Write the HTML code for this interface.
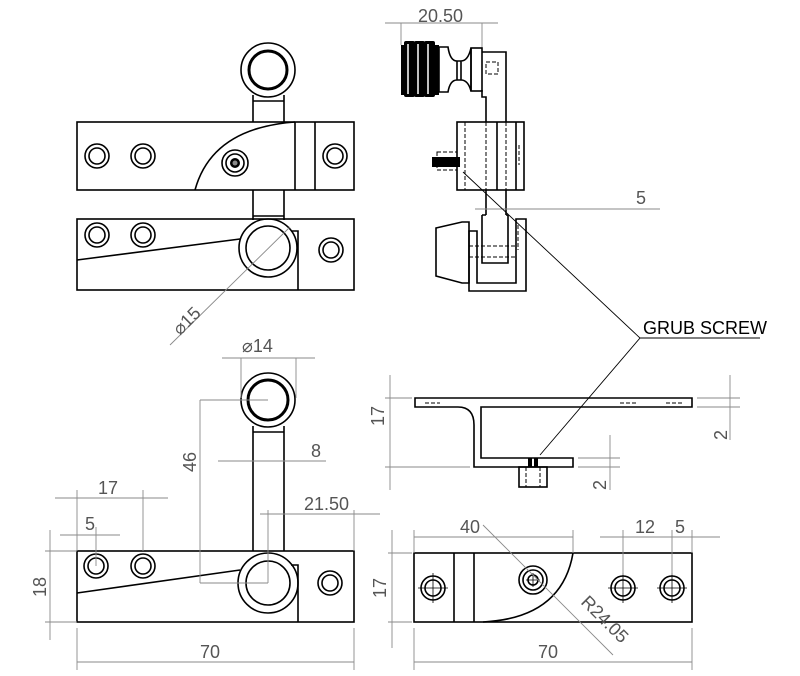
<!DOCTYPE html>
<html><head><meta charset="utf-8"><style>
html,body{margin:0;padding:0;background:#fff;}
svg{display:block;}
.k{fill:none;stroke:#000;stroke-width:1.6;}
.kt{fill:none;stroke:#000;stroke-width:3;}
.d{fill:none;stroke:#8a8a8a;stroke-width:0.9;}
.h{fill:none;stroke:#000;stroke-width:1;stroke-dasharray:4 2;}
.t{font-family:"Liberation Sans",sans-serif;font-size:18px;fill:#555;}
</style></head><body>
<svg width="800" height="676" viewBox="0 0 800 676" xmlns="http://www.w3.org/2000/svg">
<!-- ===== TOP LEFT VIEW ===== -->
<circle class="k" cx="268" cy="70" r="27"/><circle class="kt" cx="268" cy="70" r="19"/>
<path class="k" d="M253,95 V122 M284,95 V122 M253,101 H284"/>
<rect class="k" x="77" y="122" width="277" height="68"/>
<path class="k" d="M295,122 V190 M315,122 V190 M195,190 Q212,128 295,122"/>
<circle class="k" cx="97" cy="156" r="12"/><circle class="k" cx="97" cy="156" r="8"/>
<circle class="k" cx="143" cy="156" r="12"/><circle class="k" cx="143" cy="156" r="8"/>
<circle class="k" cx="335" cy="156" r="12"/><circle class="k" cx="335" cy="156" r="8"/>
<circle class="k" cx="235" cy="163" r="13"/><circle class="k" cx="235" cy="163" r="9"/><circle cx="235" cy="163" r="5" fill="#000"/><circle cx="235" cy="163" r="2.5" fill="#888"/>
<path class="k" d="M253,190 V220 M284,190 V220 M253,216 H284"/>
<rect class="k" x="77" y="219" width="277" height="71"/>
<circle class="k" cx="97" cy="235" r="12"/><circle class="k" cx="97" cy="235" r="8"/>
<circle class="k" cx="143" cy="235" r="12"/><circle class="k" cx="143" cy="235" r="8"/>
<circle class="k" cx="331" cy="250" r="12"/><circle class="k" cx="331" cy="250" r="8"/>
<circle fill="#fff" class="k" cx="268" cy="248" r="29"/><circle class="k" cx="268" cy="248" r="22"/>
<path class="k" d="M77,260 L240,239 M291,231 H298 V290"/>
<path class="d" d="M170,345 L290,227"/>
<text class="t" transform="translate(180,336) rotate(-45)">⌀15</text>
<!-- ===== TOP RIGHT VIEW ===== -->
<path class="d" d="M385,23 H498 M401,23 V45 M482,23 V50"/>
<text class="t" x="418" y="22">20.50</text>
<rect x="401" y="45" width="4" height="50" fill="#000"/>
<rect x="404" y="41" width="11" height="56" rx="2" fill="#000"/>
<rect x="414" y="41" width="11" height="56" rx="2" fill="#000"/>
<rect x="424" y="41" width="11" height="56" rx="2" fill="#000"/>
<path d="M408,44 V94 M418,44 V94 M428,44 V94" stroke="#fff" stroke-width="1.5"/>
<rect x="435" y="45" width="4" height="50" fill="#000"/>
<path class="k" d="M439,47 H448 Q450,61 457,61 H461 Q468,61 471,48 V91 Q468,80 461,80 H457 Q450,80 448,92 H439 Z M457,61 V80 M461,61 V80"/>
<rect class="k" x="471" y="48" width="11" height="43"/>
<path class="k" d="M482,52 H506 V122 M482,90 V97 H486 V122"/>
<rect class="h" x="486" y="62" width="12" height="12"/>
<rect class="k" x="457" y="122" width="67" height="68"/>
<path class="k" d="M497,122 V190 M516,122 V190"/>
<path class="h" d="M465,122 V190 M486,122 V190 M506,122 V190 M519,145 V165"/>
<rect class="h" x="437" y="152" width="20" height="18"/>
<rect x="432" y="157" width="28" height="10" fill="#000"/>
<path class="k" d="M486,190 V215 M506,190 V215"/>
<path class="k" d="M482,215 V263 H508 V215 M482,215 H486 M506,215 H508 M469,231 H477 V283 H516 V219 H526 V291 H469 Z"/>
<path class="k" d="M436,228 L462,222 H469 V283 H462 L436,276 Z"/>
<path class="h" d="M469,246 H516 M469,257 H516 M518,225 V250"/>
<path class="d" d="M475,209 H660"/>
<text class="t" x="636" y="204">5</text>
<path d="M463,172 L640,338 L540,455" fill="none" stroke="#000" stroke-width="0.9"/>
<path d="M640,338 H760" fill="none" stroke="#000" stroke-width="1"/>
<text x="643" y="334" font-family="Liberation Sans,sans-serif" font-size="18" fill="#000">GRUB SCREW</text>
<!-- ===== MIDDLE RIGHT SECTION ===== -->
<path class="k" d="M415,398 H692 V407 H481 V458 H573 V467 H474 V425 Q474,407 458,407 H415 Z"/>
<rect class="k" x="519" y="467" width="28" height="20"/>
<path class="h" d="M526,467 V487 M540,467 V487 M425,403 H440 M620,403 H636 M666,403 H682"/>
<rect x="528" y="458" width="4" height="9" fill="#000"/><rect x="534" y="458" width="4" height="9" fill="#000"/>
<path class="d" d="M390,375 V490 M385,398 H412 M385,467 H470 M730,375 V440 M697,398 H740 M697,407 H740 M610,435 V490 M578,458 H620 M578,467 H620"/>
<text class="t" transform="translate(384,426) rotate(-90)">17</text>
<text class="t" transform="translate(727,440) rotate(-90)">2</text>
<text class="t" transform="translate(606,490) rotate(-90)">2</text>
<!-- ===== BOTTOM LEFT VIEW ===== -->
<circle class="k" cx="268" cy="400" r="27"/><circle class="kt" cx="268" cy="400" r="20"/>
<path class="k" d="M253,426 V551 M284,426 V551 M253,432 H284"/>
<rect class="k" x="77" y="551" width="277" height="71"/>
<circle class="k" cx="96" cy="566" r="12"/><circle class="k" cx="96" cy="566" r="8"/>
<circle class="k" cx="143" cy="566" r="12"/><circle class="k" cx="143" cy="566" r="8"/>
<circle class="k" cx="330" cy="583" r="12"/><circle class="k" cx="330" cy="583" r="8"/>
<circle fill="#fff" class="k" cx="268" cy="583" r="30"/><circle class="k" cx="268" cy="583" r="22"/>
<path class="k" d="M77,593 L240,570 M291,565 H298 V622"/>
<path class="d" d="M222,358 H315 M241,358 V398 M296,358 V398 M200,400 H268 M200,400 V583 M200,583 H268 M218,461 H326 M260,514 H380 M268,510 V583 M354,510 V551 M55,498 H168 M77,490 V551 M143,490 V551 M60,535 H120 M96,527 V566 M50,530 V640 M45,551 H77 M45,622 H77 M77,628 V670 M354,628 V670 M77,662 H354"/>
<text class="t" x="242" y="352">⌀14</text>
<text class="t" transform="translate(196,472) rotate(-90)">46</text>
<text class="t" x="311" y="457">8</text>
<text class="t" x="304" y="510">21.50</text>
<text class="t" x="98" y="494">17</text>
<text class="t" x="85" y="530">5</text>
<text class="t" transform="translate(46,597) rotate(-90)">18</text>
<text class="t" x="200" y="658">70</text>
<!-- ===== BOTTOM RIGHT VIEW ===== -->
<rect class="k" x="414" y="553" width="278" height="69"/>
<path class="k" d="M454,553 V622 M474,553 V622 M483,622 Q562,618 573,553"/>
<circle class="k" cx="433" cy="588" r="12"/><circle class="k" cx="433" cy="588" r="8"/>
<circle class="k" cx="533" cy="580" r="14"/><circle class="k" cx="533" cy="580" r="10"/><circle class="k" cx="533" cy="580" r="5"/>
<circle class="k" cx="623" cy="588" r="12"/><circle class="k" cx="623" cy="588" r="8"/>
<circle class="k" cx="672" cy="588" r="12"/><circle class="k" cx="672" cy="588" r="8"/>
<path d="M418,588 H448 M433,573 V603 M608,588 H638 M623,573 V603 M657,588 H687 M672,573 V603 M526,580 H540 M533,573 V587" stroke="#000" stroke-width="0.8" fill="none"/>
<path class="d" d="M414,537 H573 M414,530 V553 M573,530 V553 M600,537 H720 M623,530 V575 M672,530 V575 M692,530 V553 M392,530 V648 M388,553 H412 M388,622 H412 M414,628 V670 M692,628 V670 M414,662 H692 M483,525 L613,655"/>
<text class="t" x="460" y="533">40</text>
<text class="t" x="635" y="533">12</text>
<text class="t" x="675" y="533">5</text>
<text class="t" transform="translate(386,598) rotate(-90)">17</text>
<text class="t" transform="translate(580,603) rotate(45)">R24.05</text>
<text class="t" x="538" y="658">70</text>
</svg>
</body></html>
